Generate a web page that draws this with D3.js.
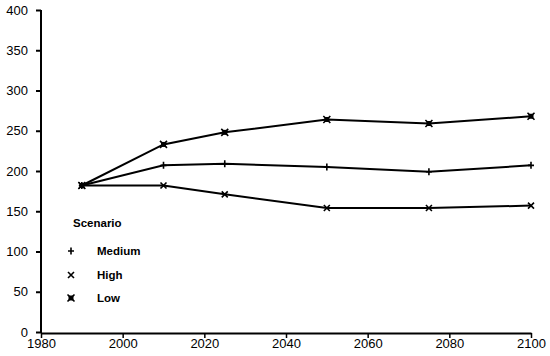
<!DOCTYPE html>
<html><head><meta charset="utf-8">
<script src="https://cdn.jsdelivr.net/npm/d3@7"></script>
<style>
html,body{margin:0;padding:0;background:#fff;}
svg{display:block;}
text{font-family:"Liberation Sans",Arial,sans-serif;}
</style></head>
<body>
<svg id="chart" width="550" height="356"></svg>
<script>
const years = [1990, 2010, 2025, 2050, 2075, 2100];
const medium = [182, 207, 209, 205, 199, 207];
const high = [182, 182, 171, 154, 154, 157];
const low = [182, 233, 248, 264, 259, 268];
const seriesNames = ["Medium", "High", "Low"];
const xTicks = [1980, 2000, 2020, 2040, 2060, 2080, 2100];
const yTicks = [0, 50, 100, 150, 200, 250, 300, 350, 400];
const legendTitle = "Scenario";

const svg = d3.select("#chart");
const x = d3.scaleLinear().domain([1980, 2100]).range([41, 531]);
const y = d3.scaleLinear().domain([0, 400]).range([332, 10]);

function drawMarker(g, name, cx, cy) {
  if (name === "Medium") {
    g.append("path").attr("d", `M${cx-3},${cy}H${cx+3}M${cx},${cy-3.5}V${cy+3.5}`)
      .attr("stroke", "#000").attr("stroke-width", 1.6).attr("fill", "none");
  } else if (name === "High") {
    g.append("path").attr("d", `M${cx-3},${cy-3}L${cx+3},${cy+3}M${cx-3},${cy+3}L${cx+3},${cy-3}`)
      .attr("stroke", "#000").attr("stroke-width", 1.6).attr("fill", "none");
  } else {
    g.append("path").attr("d", `M${cx-3.5},${cy-3.5}L${cx+3.5},${cy+3.5}M${cx-3.5},${cy+3.5}L${cx+3.5},${cy-3.5}`)
      .attr("stroke", "#000").attr("stroke-width", 1.6).attr("fill", "none");
    g.append("rect").attr("x", cx-2.5).attr("y", cy-2.5).attr("width", 5).attr("height", 5).attr("fill", "#000");
  }
}

const data = [
  {name: "Medium", values: medium},
  {name: "High", values: high},
  {name: "Low", values: low}
];

const line = d3.line().x((d, i) => x(years[i])).y(d => y(d));

const gLines = svg.append("g");
data.forEach(s => {
  gLines.append("path").datum(s.values).attr("d", line)
    .attr("fill", "none").attr("stroke", "#000").attr("stroke-width", 2);
  const gm = gLines.append("g");
  s.values.forEach((v, i) => drawMarker(gm, s.name, x(years[i]), y(v)));
});

const yAxis = d3.axisLeft(y).tickValues(yTicks).tickSize(5).tickPadding(8).tickSizeOuter(0);
const gy = svg.append("g").attr("transform", `translate(${x(1980)},0)`).call(yAxis);
gy.select(".domain").attr("stroke-width", 2).attr("d", `M0,${y(400)}V${y(0)+1}`);
gy.selectAll(".tick line").attr("stroke-width", 2);
gy.selectAll("text").attr("font-size", 13).attr("fill", "#000")
  .attr("font-family", "'Liberation Sans',Arial,sans-serif");

const xAxis = d3.axisBottom(x).tickValues(xTicks).tickFormat(d3.format("d")).tickSize(5).tickPadding(1).tickSizeOuter(0);
const gx = svg.append("g").attr("transform", `translate(0,${y(0)+1})`).call(xAxis);
gx.select(".domain").attr("stroke-width", 2);
gx.selectAll(".tick line").attr("stroke-width", 1.5);
gx.selectAll("text").attr("font-size", 13).attr("fill", "#000")
  .attr("font-family", "'Liberation Sans',Arial,sans-serif");

const lg = svg.append("g");
lg.append("text").attr("x", 73).attr("y", 227).text(legendTitle)
  .attr("font-size", 11.5).attr("font-weight", "bold");
const legY = [251, 275, 298];
seriesNames.forEach((n, i) => {
  drawMarker(lg, n, 71, legY[i]);
  lg.append("text").attr("x", 97).attr("y", legY[i] + 4).text(n)
    .attr("font-size", 11.5).attr("font-weight", "bold");
});
</script>
</body></html>
